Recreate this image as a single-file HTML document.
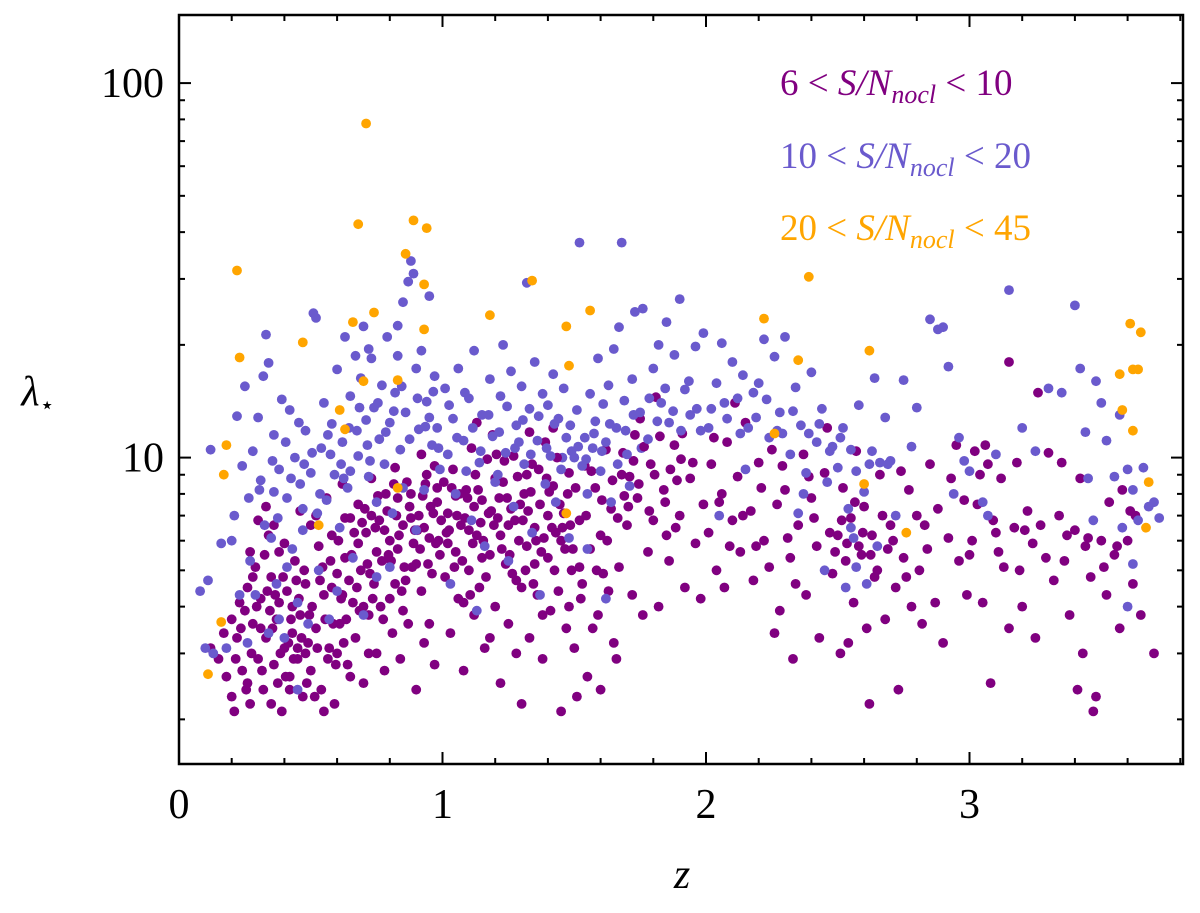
<!DOCTYPE html>
<html><head><meta charset="utf-8"><style>
body{margin:0;background:#fff}
svg{display:block;font-family:"Liberation Serif",serif}
</style></head><body>
<svg id="chart" width="1200" height="913" viewBox="0 0 1200 913" xmlns="http://www.w3.org/2000/svg">
<g id="marks"></g>
<g id="axes"></g>
<g font-size="37" font-style="italic">
<text x="780" y="95" fill="#800080"><tspan font-style="normal">6 &lt; </tspan>S/N<tspan font-size="26" dy="8">nocl</tspan><tspan font-style="normal" dy="-8"> &lt; 10</tspan></text>
<text x="780" y="168" fill="#6a5acd"><tspan font-style="normal">10 &lt; </tspan>S/N<tspan font-size="26" dy="8">nocl</tspan><tspan font-style="normal" dy="-8"> &lt; 20</tspan></text>
<text x="780" y="240" fill="#ffa500"><tspan font-style="normal">20 &lt; </tspan>S/N<tspan font-size="26" dy="8">nocl</tspan><tspan font-style="normal" dy="-8"> &lt; 45</tspan></text>
</g>
<text x="682" y="888" font-size="42" font-style="italic" text-anchor="middle">z</text>
<text x="38" y="405" font-size="42" font-style="italic" text-anchor="middle">λ<tspan font-size="24" font-style="normal" dy="8">⋆</tspan></text>
</svg>
<script>
const xTicks=[0,1,2,3];
const yTicks=[10,100];
const orangePts=[[.11,2.64],[.16,3.64],[.71,78],[.68,42],[.89,43],[.94,41],[.86,35],[.93,29],[.22,31.6],[1.34,29.7],[2.39,30.4],[.74,24.4],[.66,23],[1.18,24],[1.56,24.7],[2.22,23.5],[.23,18.5],[.47,20.3],[.93,22],[1.47,22.4],[1.48,17.6],[.83,16.1],[.7,16],[.61,13.4],[.63,11.9],[2.26,11.6],[2.35,18.2],[2.62,19.3],[3.61,22.8],[3.65,21.6],[3.57,16.7],[3.62,17.2],[3.64,17.2],[3.58,13.4],[3.62,11.8],[3.68,8.6],[3.67,6.5],[.18,10.8],[.17,9.0],[.83,8.3],[1.47,7.1],[.53,6.6],[2.76,6.3],[2.6,8.5]];
const purplePts=[[.12,3.1],[.15,2.9],[.18,2.6],[.2,2.3],[.21,2.1],[.22,3.3],[.24,2.7],[.25,3.9],[.26,4.5],[.27,2.2],[.28,3.6],[.29,5.1],[.3,2.9],[.31,4.2],[.32,2.4],[.33,3.3],[.34,6.2],[.35,4.8],[.36,2.8],[.37,3.7],[.38,5.6],[.39,2.1],[.4,3.1],[.41,4.4],[.42,2.6],[.43,3.4],[.44,5.3],[.45,2.9],[.46,3.8],[.47,2.3],[.48,4.6],[.49,3.2],[.5,6.6],[.5,2.7],[.23,4.1],[.27,5.6],[.3,6.8],[.33,7.4],[.36,6.6],[.4,5.9],[.43,4.0],[.46,7.2],[.48,3.0],[.2,3.7],[.17,3.4],[.26,2.5],[.35,2.2],[.42,2.4],[.45,3.1],[.38,4.1],[.31,3.5],[.28,4.8],
[.52,3.5],[.53,5.8],[.54,2.4],[.55,4.3],[.56,7.8],[.57,3.1],[.58,6.2],[.59,2.2],[.6,4.9],[.61,3.6],[.62,8.5],[.63,5.4],[.64,2.8],[.65,6.9],[.66,4.1],[.67,3.3],[.68,7.5],[.69,5.0],[.7,2.5],[.71,6.3],[.72,3.8],[.73,8.8],[.74,4.6],[.75,3.0],[.76,6.8],[.77,5.3],[.78,2.7],[.79,7.2],[.8,4.2],[.81,3.4],[.82,9.4],[.83,5.7],[.84,2.9],[.85,6.6],[.86,4.7],[.87,3.6],[.88,8.0],[.89,5.9],[.9,2.4],[.91,7.0],[.92,4.4],[.93,3.2],[.94,9.0],[.95,6.1],[.96,4.9],[.97,2.8],[.98,7.6],[.99,5.5],[.55,2.1],[.6,3.0],[.65,2.6],[.7,4.0],[.75,5.6],[.8,6.0],[.85,3.9],[.9,5.2],[.95,3.6],[.58,4.5],[.63,6.9],[.68,5.9],[.73,7.0],[.78,6.4],[.83,7.8],[.88,6.9],[.93,6.5],[.98,8.3],[.52,7.0],[.62,4.3],[.72,3.0],[.82,4.6],[.92,10.2],[.97,9.5],
[1.01,4.8],[1.02,7.1],[1.03,3.4],[1.04,9.3],[1.05,5.6],[1.06,4.2],[1.07,6.6],[1.08,2.7],[1.09,8.2],[1.1,5.0],[1.11,10.6],[1.12,3.8],[1.13,6.2],[1.14,4.5],[1.15,7.7],[1.16,3.1],[1.17,9.9],[1.18,5.5],[1.19,11.5],[1.2,4.0],[1.21,6.9],[1.22,2.5],[1.23,8.6],[1.24,5.2],[1.25,3.6],[1.26,7.3],[1.27,10.1],[1.28,4.7],[1.29,6.0],[1.3,2.2],[1.31,8.0],[1.32,5.8],[1.33,3.3],[1.34,9.6],[1.35,6.5],[1.36,4.3],[1.37,7.5],[1.38,2.9],[1.39,11.0],[1.4,5.4],[1.41,3.9],[1.42,8.4],[1.43,6.3],[1.44,4.4],[1.45,2.1],[1.46,7.1],[1.47,3.5],[1.48,9.1],[1.49,5.0],[1.05,7.9],[1.1,6.4],[1.15,5.4],[1.2,8.8],[1.25,6.6],[1.3,4.5],[1.35,5.2],[1.4,7.0],[1.45,6.0],[1.08,4.1],[1.18,3.3],[1.28,3.0],[1.38,3.8],[1.48,4.0],[1.02,5.9],[1.12,7.4],[1.22,6.2],[1.32,9.0],[1.42,12.0],[1.13,12.4],[1.33,11.7],
[1.5,3.1],[1.52,6.8],[1.53,4.6],[1.54,9.5],[1.55,2.6],[1.56,5.7],[1.58,8.3],[1.59,3.8],[1.6,6.2],[1.62,10.5],[1.63,4.4],[1.64,7.3],[1.66,2.9],[1.67,5.1],[1.68,9.0],[1.7,6.6],[1.72,4.3],[1.73,11.5],[1.74,7.8],[1.76,3.8],[1.78,5.6],[1.79,9.6],[1.8,6.8],[1.82,4.0],[1.84,8.2],[1.86,5.3],[1.88,10.8],[1.9,7.0],[1.92,4.5],[1.94,8.8],[1.96,5.9],[1.98,4.2],[1.51,2.3],[1.57,3.5],[1.61,4.9],[1.69,7.9],[1.75,12.7],[1.81,14.5],[1.85,6.2],[1.91,11.6],[1.95,9.7],[1.99,7.5],[1.6,2.4],[1.65,3.2],[1.52,5.1],[1.71,8.9],[1.89,8.7],
[2.01,6.3],[2.02,9.6],[2.04,5.0],[2.05,7.6],[2.07,4.5],[2.08,11.0],[2.1,6.8],[2.12,8.9],[2.13,5.6],[2.15,12.4],[2.17,7.2],[2.18,4.7],[2.2,9.7],[2.22,6.0],[2.24,5.1],[2.25,10.5],[2.27,7.5],[2.28,3.9],[2.3,8.2],[2.32,5.4],[2.33,2.9],[2.35,6.6],[2.37,10.2],[2.38,4.3],[2.4,7.8],[2.42,5.8],[2.43,3.3],[2.45,9.1],[2.47,6.3],[2.48,4.9],[2.03,11.3],[2.11,14.0],[2.19,5.8],[2.26,3.4],[2.34,4.6],[2.41,6.9],[2.46,12.0],[2.06,8.0],[2.14,7.0],[2.29,9.5],
[2.5,6.2],[2.51,3.0],[2.52,8.3],[2.53,5.3],[2.55,6.9],[2.56,4.1],[2.57,10.4],[2.58,5.8],[2.6,7.4],[2.61,3.5],[2.62,2.2],[2.63,6.2],[2.65,5.0],[2.66,9.0],[2.68,3.7],[2.7,6.6],[2.72,4.5],[2.73,2.4],[2.75,5.4],[2.77,8.2],[2.78,4.0],[2.8,7.0],[2.82,3.6],[2.84,5.7],[2.85,9.6],[2.87,4.1],[2.88,7.3],[2.9,3.2],[2.92,6.1],[2.93,8.8],[2.95,10.8],[2.96,5.3],[2.98,7.7],[2.99,4.3],[2.54,3.2],[2.59,5.5],[2.64,4.8],[2.69,5.7],[2.74,9.2],[2.81,5.0],
[3.0,5.5],[3.02,10.4],[3.03,7.5],[3.05,4.1],[3.06,10.8],[3.08,2.5],[3.1,6.3],[3.12,8.8],[3.13,5.1],[3.15,3.5],[3.17,6.5],[3.18,9.7],[3.2,4.0],[3.22,7.2],[3.24,5.9],[3.25,3.3],[3.27,6.6],[3.3,10.3],[3.32,4.7],[3.34,7.0],[3.36,5.3],[3.38,3.8],[3.4,6.4],[3.41,2.4],[3.42,8.8],[3.43,3.0],[3.44,5.8],[3.46,4.8],[3.47,2.1],[3.48,2.3],[3.5,6.0],[3.52,4.3],[3.53,7.6],[3.55,5.5],[3.57,3.5],[3.58,8.2],[3.6,6.0],[3.62,4.6],[3.63,7.0],[3.65,3.8],[3.7,3.0],[3.15,18.0],[3.26,14.9],[3.04,9.0],[3.09,6.8],[3.19,5.0],[3.35,9.7]];
const purpleExtra=[[.215,2.9],[.235,3.5],[.255,2.4],[.275,3.0],[.295,4.0],[.315,2.7],[.325,5.5],[.345,3.9],[.365,4.3],[.385,3.0],[.405,2.6],[.425,3.7],[.445,4.7],[.465,3.3],[.485,2.5],[.505,4.0],[.525,3.1],[.545,5.1],[.565,2.9],[.585,3.6],[.605,6.0],[.625,3.2],[.645,4.7],[.665,6.3],[.685,3.9],[.705,7.3],[.725,4.9],[.745,6.5],[.765,4.0],[.785,8.0],[.805,5.3],[.825,7.0],[.845,4.4],[.865,8.6],[.885,5.1],[.905,6.4],[.925,7.9],[.945,5.2],[.965,7.1],[.985,6.0],[1.005,8.6],[1.025,6.4],[1.045,5.1],[1.065,8.0],[1.085,6.9],[1.105,4.3],[1.125,9.0],[1.145,6.7],[1.165,4.8],[1.185,7.2],[1.205,10.2],[1.225,5.7],[1.245,7.8],[1.265,4.9],[1.285,8.9],[1.305,6.8],[1.325,7.2],[1.345,4.6],[1.365,9.3],[1.385,6.1],[1.405,8.1],[1.425,5.0],[1.445,7.5],[1.465,5.7],[1.485,6.6],[1.505,8.3],[1.525,4.2],[1.545,7.0],[1.565,9.2],[1.585,5.0],[1.605,7.7],[1.625,6.0],[1.645,8.7],[1.665,6.9],[1.685,10.3],[1.705,7.4],[1.725,9.8],[1.745,8.5],[1.765,10.7],[1.785,7.2],[1.805,9.0],[1.825,11.4],[1.845,7.6],[1.865,9.3],[1.885,6.5],[1.905,9.9],[.335,4.4],[.355,3.5],[.375,2.5],[.395,4.8],[.415,3.2],[.435,2.9],[.455,4.2],[.475,5.0],[.495,3.8],[.515,2.3],[.535,4.7],[.555,3.7],[.575,5.3],[.595,2.8],[.615,4.2],[.635,3.7],[.655,5.5],[.675,4.5],[.695,6.7],[.715,5.2],[.735,4.2],[.755,7.9],[.775,3.7],[.795,5.5],[.815,8.5],[.835,6.2],[.855,5.1],[.875,7.4],[.895,6.4],[.915,5.7],[.935,8.5],[.955,7.4],[.975,5.9],[.995,6.8],[1.015,6.3],[1.035,8.3],[1.055,7.0],[1.075,5.3],[1.095,7.8],[1.115,5.9],[1.135,8.2],[1.155,6.0],[1.175,7.1],[1.195,6.6],[1.215,7.8],[1.235,9.8],[1.255,5.5],[1.275,6.8],[1.295,7.5],[1.315,5.0],[1.335,8.1],[1.355,6.0],[1.375,5.6],[1.395,8.8],[1.415,6.5],[1.435,10.0],[1.455,6.5],[1.475,8.0],[1.495,5.7],[2.09,5.8],[2.21,8.3],[2.31,6.1],[2.39,8.9],[2.49,5.6],[2.515,6.8],[2.535,5.9],[2.565,7.6],[2.595,6.3],[2.625,5.5],[2.67,7.0],[2.71,6.0],[2.76,4.8],[2.83,6.6],[3.01,6.0],[3.07,9.6],[3.11,5.6],[3.21,6.4],[3.29,5.4],[3.37,6.2],[3.45,6.1],[3.51,5.1],[3.56,5.8],[3.61,7.2]];
const bluePts=[[.08,4.4],[.1,3.1],[.11,4.7],[.12,10.5],[.13,3.0],[.16,5.9],[.2,6.0],[.21,7.0],[.22,12.9],[.24,9.5],[.25,15.5],[.27,5.3],[.28,10.4],[.3,12.8],[.31,8.7],[.32,16.5],[.33,21.3],[.34,17.9],[.35,6.1],[.36,11.5],[.37,4.6],[.38,9.3],[.39,14.3],[.4,3.3],[.41,7.8],[.42,13.4],[.43,5.7],[.44,10.0],[.45,4.1],[.46,8.5],[.47,6.4],[.48,11.8],[.49,3.6],[.5,9.1],[.26,3.2],[.29,4.3],[.34,3.4],[.38,3.7],[.45,2.4],[.41,5.1],[.47,7.3],[.36,8.1],[.23,4.3],[.18,3.1],
[.51,24.3],[.52,23.6],[.53,5.0],[.54,10.6],[.55,14.0],[.56,7.7],[.57,3.7],[.58,12.3],[.59,9.0],[.6,17.2],[.61,6.5],[.62,11.0],[.63,21.0],[.64,8.3],[.65,14.6],[.66,5.4],[.67,18.7],[.68,10.1],[.69,16.3],[.7,22.4],[.71,12.6],[.72,8.9],[.73,18.4],[.74,13.6],[.75,4.8],[.76,11.2],[.77,15.6],[.78,9.6],[.79,21.0],[.8,12.4],[.81,7.1],[.82,14.9],[.83,18.7],[.84,10.5],[.85,26.0],[.86,13.2],[.87,29.5],[.88,33.5],[.89,31.0],[.9,17.3],[.91,11.9],[.92,19.3],[.93,8.2],[.94,14.1],[.95,27.0],[.96,10.8],[.97,16.5],[.98,12.0],[.99,9.3],[.6,4.4],[.7,3.8],[.8,5.1],[.9,6.4],[.65,9.2],[.75,7.6],[.85,8.3],[.95,12.8],[.72,19.5],[.83,22.5],
[1.01,15.3],[1.02,10.2],[1.04,12.7],[1.05,8.0],[1.06,17.3],[1.08,11.1],[1.1,14.4],[1.11,6.8],[1.12,19.3],[1.14,9.7],[1.15,13.0],[1.16,5.8],[1.18,16.2],[1.19,11.4],[1.2,8.6],[1.22,14.6],[1.23,20.0],[1.24,10.3],[1.26,17.0],[1.27,7.4],[1.28,12.2],[1.3,15.5],[1.31,9.6],[1.32,29.3],[1.33,13.5],[1.34,6.3],[1.35,18.0],[1.36,11.1],[1.38,14.8],[1.39,8.5],[1.4,13.8],[1.41,10.1],[1.42,16.7],[1.43,7.6],[1.44,12.7],[1.45,9.3],[1.46,15.3],[1.47,11.3],[1.48,6.1],[1.49,10.4],[1.03,4.6],[1.13,3.9],[1.25,5.3],[1.37,4.3],[1.21,9.0],[1.29,11.0],[1.09,9.2],
[1.5,10.0],[1.51,13.4],[1.52,37.5],[1.53,9.5],[1.54,11.3],[1.55,8.0],[1.56,14.8],[1.57,10.6],[1.58,12.5],[1.59,18.4],[1.6,9.2],[1.61,13.9],[1.62,11.0],[1.63,15.6],[1.64,7.6],[1.65,19.5],[1.66,12.0],[1.67,22.3],[1.68,37.5],[1.69,14.2],[1.7,10.2],[1.72,16.2],[1.73,24.5],[1.75,13.2],[1.76,25.0],[1.78,11.2],[1.8,17.3],[1.82,20.0],[1.83,14.0],[1.85,23.0],[1.86,12.4],[1.88,18.8],[1.9,26.5],[1.92,15.2],[1.94,13.0],[1.96,19.8],[1.98,11.8],[1.99,21.5],[1.55,5.7],[1.62,4.2],[1.71,8.4],
[2.02,13.5],[2.04,15.8],[2.06,20.2],[2.08,12.7],[2.1,18.0],[2.12,14.4],[2.14,16.6],[2.16,12.0],[2.18,14.9],[2.2,15.8],[2.22,20.7],[2.24,11.3],[2.26,18.6],[2.28,13.2],[2.3,21.0],[2.32,10.2],[2.34,15.4],[2.36,12.2],[2.38,9.1],[2.4,16.9],[2.42,11.0],[2.44,13.5],[2.46,8.6],[2.48,10.7],[2.05,7.0],[2.15,9.3],[2.35,7.1],[2.45,5.0],[2.27,11.8],[2.37,8.0],
[2.5,9.4],[2.52,12.0],[2.54,7.3],[2.55,10.5],[2.56,6.1],[2.58,13.8],[2.6,8.1],[2.62,9.6],[2.64,16.3],[2.65,5.8],[2.66,9.7],[2.68,12.8],[2.7,9.8],[2.72,7.0],[2.75,16.1],[2.78,10.7],[2.8,13.6],[2.85,23.4],[2.88,22.0],[2.9,22.3],[2.92,17.5],[2.94,8.0],[2.96,11.3],[2.98,9.8],[2.53,4.5],[2.57,5.1],[2.61,4.6],[2.55,6.5],
[3.0,9.2],[3.05,7.6],[3.07,7.0],[3.1,10.2],[3.15,28.0],[3.2,12.0],[3.25,10.4],[3.3,15.3],[3.35,14.9],[3.4,25.5],[3.42,17.3],[3.44,11.7],[3.45,8.8],[3.48,16.0],[3.5,14.0],[3.52,11.1],[3.55,8.9],[3.57,13.0],[3.6,9.3],[3.62,8.2],[3.64,6.8],[3.66,9.4],[3.68,7.4],[3.7,7.6],[3.72,6.9],[3.6,4.0],[3.62,5.2],[3.58,6.5],[3.47,6.8]];
const blueExtra=[[.305,8.2],[.355,9.8],[.405,11.0],[.455,12.4],[.505,10.3],[.535,8.0],[.565,11.5],[.615,9.6],[.645,12.0],[.685,13.6],[.715,10.8],[.755,14.0],[.785,11.7],[.815,13.3],[.845,15.5],[.875,11.2],[.905,14.4],[.935,12.1],[.965,15.0],[.985,10.6],[1.025,13.8],[1.055,11.3],[1.085,14.9],[1.115,12.0],[1.145,10.4],[1.175,13.0],[1.215,11.7],[1.245,13.7],[1.275,10.6],[1.305,12.6],[1.335,10.2],[1.365,12.9],[1.395,10.6],[1.425,12.3],[1.455,10.0],[1.485,12.2],[1.515,10.7],[1.545,9.9],[1.575,11.6],[1.605,10.4],[1.635,12.3],[1.665,9.6],[1.695,11.8],[1.725,13.0],[1.755,10.6],[1.785,14.4],[1.815,12.5],[1.845,15.3],[1.875,13.3],[1.905,11.8],[1.935,16.0],[1.965,13.5],[2.01,12.0],[2.07,14.0],[2.13,11.6],[2.19,12.8],[2.23,14.3],[2.29,11.6],[2.33,13.3],[2.39,11.6],[2.43,12.3],[2.47,10.4],[2.51,11.3],[2.57,9.2],[2.63,10.4],[2.69,9.6],[.265,7.8],[.325,6.6],[.375,6.9],[.425,8.8],[.475,9.6],[.525,7.1],[.575,10.2],[.625,8.8],[.675,11.8],[.725,9.8]];

const NS='http://www.w3.org/2000/svg';
const L=179,R=1183,T=15,B=764;
const X0=0,X1=(R-L)/263.5;
const Y0=Math.log10(1.52),Y1=Math.log10(152);
function sx(v){return L+(v-X0)/(X1-X0)*(R-L);}
function sy(v){return B-(Math.log10(v)-Y0)/(Y1-Y0)*(B-T);}
function mk(tag,attrs,parent){const e=document.createElementNS(NS,tag);for(const k in attrs)e.setAttribute(k,attrs[k]);parent.appendChild(e);return e;}
const marks=document.getElementById('marks'),axes=document.getElementById('axes');
function series(pts,color,name){
  const g=mk('g',{fill:color},marks);
  
  
  pts.forEach(p=>{
    if(p[1]<1.52||p[0]>X1)return;
    const c=mk('circle',{cx:sx(p[0]).toFixed(1),cy:sy(p[1]).toFixed(1),r:4.9},g);
    
    
  });
}
series(purplePts,'#800080','purple');
series(blueExtra,'#6a5acd','blue-extra');
series(purpleExtra,'#800080','purple-extra');
series(bluePts,'#6a5acd','blue');
series(orangePts,'#ffa500','orange');

const frame=mk('rect',{x:L,y:T,width:R-L,height:B-T,fill:'none',stroke:'#000','stroke-width':2.5},axes);


for(let i=0;i*0.2<=X1+1e-9;i++){
  const v=i*0.2,x=sx(v),maj=(i%5===0),len=maj?12:6;
  mk('line',{x1:x,x2:x,y1:B,y2:B-len,stroke:'#000','stroke-width':2},axes);
  mk('line',{x1:x,x2:x,y1:T,y2:T+len,stroke:'#000','stroke-width':2},axes);
}
xTicks.forEach(v=>{
  const t=mk('text',{x:sx(v),y:818,'font-size':42,'text-anchor':'middle'},axes);
  t.textContent=v;
  
  
});
[1,10,100].forEach(d=>{for(let m=1;m<10;m++){const v=d*m;if(v<1.52||v>152)continue;const y=sy(v),maj=(m===1),len=maj?12:6;
  mk('line',{x1:L,x2:L+len,y1:y,y2:y,stroke:'#000','stroke-width':2},axes);
  mk('line',{x1:R,x2:R-len,y1:y,y2:y,stroke:'#000','stroke-width':2},axes);}});
yTicks.forEach(v=>{
  const t=mk('text',{x:164,y:sy(v)+14,'font-size':42,'text-anchor':'end'},axes);
  t.textContent=v;
  
  
});
</script>
</body></html>
